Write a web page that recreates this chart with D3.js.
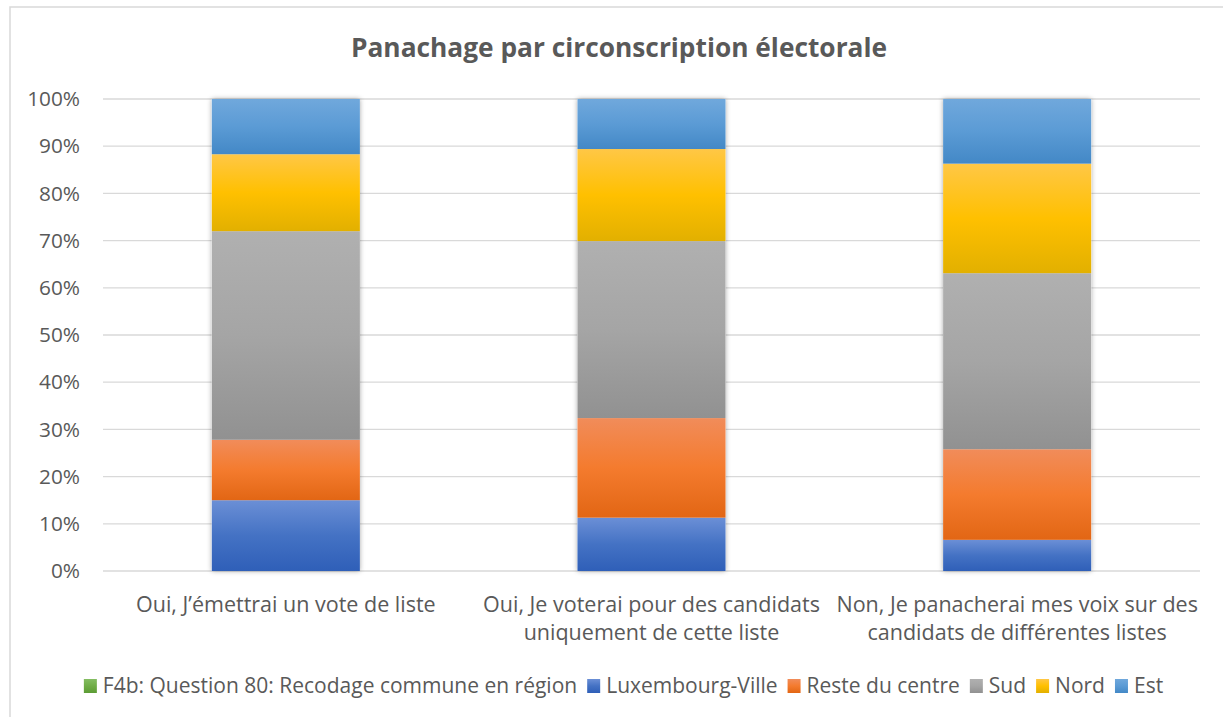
<!DOCTYPE html>
<html>
<head>
<meta charset="utf-8">
<script src="https://cdn.jsdelivr.net/npm/d3@7"></script>
<style>
  body { margin: 0; background: #fff; }
  text { font-family: "Open Sans", sans-serif; fill: #595959; }
</style>
</head>
<body>
<div id="chart"></div>
<script>
// categories (x axis), each label split in lines
const categories = [
  ["Oui, J’émettrai un vote de liste"],
  ["Oui, Je voterai pour des candidats", "uniquement de cette liste"],
  ["Non, Je panacherai mes voix sur des", "candidats de différentes listes"],
];

// series, stacked from bottom to top (percent of each bar)
const seriesNames = ["Luxembourg-Ville", "Reste du centre", "Sud", "Nord", "Est"];
const luxembourgVille = [15.0, 11.3, 6.6];
const resteDuCentre = [12.8, 21.1, 19.2];
const sud = [44.2, 37.5, 37.3];
const nord = [16.3, 19.5, 23.2];
const est = [11.7, 10.6, 13.7];

const yTicks = [0, 10, 20, 30, 40, 50, 60, 70, 80, 90, 100];
const legendNames = ["F4b: Question 80: Recodage commune en région"].concat(seriesNames);

// colours: [top, middle, bottom] of the gradient, first one is the legend-only series
const gradients = [
  ["#84bd62", "#70ad47", "#5c9c34"],
  ["#6b8fd6", "#4472c4", "#2f5fb8"],
  ["#f18c5a", "#f47b2e", "#e26614"],
  ["#b0b0b0", "#a5a5a5", "#919191"],
  ["#ffc746", "#ffc000", "#e2b000"],
  ["#70a8dc", "#5b9bd5", "#4388c6"],
];

const width = 1223, height = 717;
const margin = { top: 99, left: 103, right: 23, bottom: 146 };

const svg = d3.select("#chart").append("svg")
  .attr("width", width).attr("height", height);

const defs = svg.append("defs");
gradients.forEach((g, i) => {
  const lg = defs.append("linearGradient").attr("id", "grad" + i)
    .attr("x1", 0).attr("y1", 0).attr("x2", 0).attr("y2", 1);
  lg.append("stop").attr("offset", "0%").attr("stop-color", g[0]);
  lg.append("stop").attr("offset", "50%").attr("stop-color", g[1]);
  lg.append("stop").attr("offset", "100%").attr("stop-color", g[2]);
});
const shadow = defs.append("filter").attr("id", "shadow")
  .attr("x", "-20%").attr("y", "-5%").attr("width", "140%").attr("height", "110%");
shadow.append("feDropShadow").attr("dx", 0).attr("dy", 0).attr("stdDeviation", 2.5)
  .attr("flood-color", "#000").attr("flood-opacity", 0.35);

// chart frame (only top and left edges are inside the picture)
svg.append("rect").attr("x", 10).attr("y", 7).attr("width", 1230).attr("height", 730)
  .attr("fill", "#fff").attr("stroke", "#d9d9d9").attr("stroke-width", 1.5);

// title
svg.append("text").attr("x", 619).attr("y", 57).attr("text-anchor", "middle")
  .style("font-size", "26.3px").style("font-weight", "bold")
  .text("Panachage par circonscription électorale");

const x = d3.scaleBand().domain(d3.range(categories.length))
  .range([margin.left, width - margin.right]).paddingInner(0.595).paddingOuter(0.2975);
const y = d3.scaleLinear().domain([0, 100]).range([height - margin.bottom, margin.top]);

// gridlines
svg.append("g").selectAll("line").data(yTicks).join("line")
  .attr("x1", margin.left).attr("x2", width - margin.right)
  .attr("y1", d => y(d)).attr("y2", d => y(d))
  .attr("stroke", "#d9d9d9").attr("stroke-width", 1.3);

// y axis labels
const yAxis = svg.append("g").attr("transform", `translate(${margin.left},0)`)
  .call(d3.axisLeft(y).tickValues(yTicks).tickFormat(d => d + "%").tickSize(0).tickPadding(23));
yAxis.select(".domain").remove();
yAxis.selectAll("text").style("font-size", "20.8px").attr("fill", "#595959")
  .style("font-family", "'Open Sans', sans-serif");

// stacked bars
const rows = categories.map((c, i) => ({
  i, "Luxembourg-Ville": luxembourgVille[i], "Reste du centre": resteDuCentre[i],
  "Sud": sud[i], "Nord": nord[i], "Est": est[i],
}));
const stacked = d3.stack().keys(seriesNames)(rows);

svg.append("g").selectAll("rect.shadow").data(rows).join("rect")
  .attr("x", d => x(d.i)).attr("width", x.bandwidth())
  .attr("y", y(100)).attr("height", y(0) - y(100))
  .attr("fill", "#fff").attr("filter", "url(#shadow)");

svg.append("g").selectAll("g").data(stacked).join("g")
  .attr("fill", (d, i) => `url(#grad${i + 1})`)
  .selectAll("rect").data(d => d).join("rect")
  .attr("x", d => x(d.data.i)).attr("width", x.bandwidth())
  .attr("y", d => y(d[1])).attr("height", d => y(d[0]) - y(d[1]));

// category labels
const catG = svg.append("g");
categories.forEach((lines, i) => {
  const t = catG.append("text").attr("text-anchor", "middle")
    .attr("x", x(i) + x.bandwidth() / 2).style("font-size", "21.5px");
  lines.forEach((l, k) => {
    t.append("tspan").attr("x", x(i) + x.bandwidth() / 2).attr("y", 612 + k * 28).text(l);
  });
});

// legend
const legend = svg.append("g");
const items = legend.selectAll("g").data(legendNames).join("g");
items.append("rect").attr("width", 13).attr("height", 14).attr("y", -14)
  .attr("fill", (d, i) => `url(#grad${i})`);
items.append("text").attr("x", 19).attr("y", 0).style("font-size", "21px").text(d => d);
let lx = 0;
items.each(function () {
  const w = d3.select(this).select("text").node().getComputedTextLength();
  d3.select(this).attr("transform", `translate(${lx},0)`);
  lx += 19 + w + 10;
});
lx -= 10;
legend.attr("transform", `translate(${(width - lx) / 2 + 12},693)`);
</script>
</body>
</html>
